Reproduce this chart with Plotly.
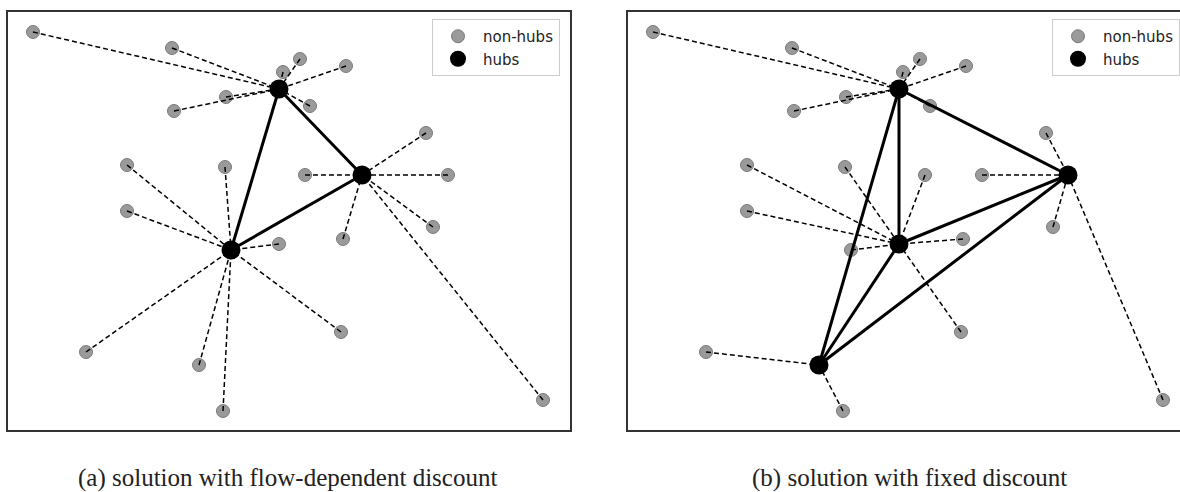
import plotly.graph_objects as go

# node positions (data units, shared by both solutions)
node_x = [25, 164, 275, 292, 338, 302, 218, 166, 271, 119, 217, 119, 297,
          354, 418, 440, 223, 271, 335, 425, 333, 78, 191, 215, 535]
node_y = [398, 382, 358, 371, 364, 324, 333, 319, 341, 265, 263, 219, 255,
          255, 297, 255, 180, 186, 191, 203, 98, 78, 65, 19, 30]

# (a) flow-dependent discount
hubs_a = [8, 13, 16]
assign_a = [8, 8, 8, 8, 8, 8, 8, 8, 8, 16, 16, 16, 13,
            13, 13, 13, 16, 16, 13, 13, 16, 16, 16, 16, 13]
links_a = [(8, 13), (8, 16), (13, 16)]

# (b) fixed discount
hubs_b = [8, 15, 17, 22]
assign_b = [8, 8, 8, 8, 8, 8, 8, 8, 8, 17, 17, 17, 17,
            15, 15, 15, 17, 17, 17, 15, 17, 22, 22, 22, 15]
links_b = [(8, 15), (8, 17), (8, 22), (15, 17), (17, 22), (15, 22)]

captions = ["(a) solution with flow-dependent discount",
            "(b) solution with fixed discount"]

W, H = 1180, 492
fig = go.Figure()

panels = [
    dict(hubs=hubs_a, assign=assign_a, links=links_a, xa="x", ya="y", leg="legend"),
    dict(hubs=hubs_b, assign=assign_b, links=links_b, xa="x2", ya="y2", leg="legend2"),
]

for p in panels:
    hubs = p["hubs"]
    non = [i for i in range(len(node_x)) if i not in hubs]
    # non-hub nodes
    fig.add_trace(go.Scatter(
        x=[node_x[i] for i in non], y=[node_y[i] for i in non], mode="markers",
        marker=dict(size=13, color="#9a9a9a", line=dict(color="#7a7a7a", width=1)),
        name="non-hubs", xaxis=p["xa"], yaxis=p["ya"], legend=p["leg"]))
    # dashed allocation lines
    lx, ly = [], []
    for i in non:
        h = p["assign"][i]
        lx += [node_x[i], node_x[h], None]
        ly += [node_y[i], node_y[h], None]
    fig.add_trace(go.Scatter(
        x=lx, y=ly, mode="lines", line=dict(color="black", width=1.5, dash="5px,3px"),
        showlegend=False, hoverinfo="skip", xaxis=p["xa"], yaxis=p["ya"]))
    # hub links
    hx, hy = [], []
    for a, b in p["links"]:
        hx += [node_x[a], node_x[b], None]
        hy += [node_y[a], node_y[b], None]
    fig.add_trace(go.Scatter(
        x=hx, y=hy, mode="lines", line=dict(color="black", width=3),
        showlegend=False, hoverinfo="skip", xaxis=p["xa"], yaxis=p["ya"]))
    # hubs
    fig.add_trace(go.Scatter(
        x=[node_x[i] for i in hubs], y=[node_y[i] for i in hubs], mode="markers",
        marker=dict(size=19, color="black"),
        name="hubs", xaxis=p["xa"], yaxis=p["ya"], legend=p["leg"]))

ax_common = dict(showgrid=False, zeroline=False, showticklabels=False, ticks="",
                 showline=True, linecolor="#333333", linewidth=1.5)
y_dom = [(H - 430) / H, (H - 12) / H]

legend_common = dict(bgcolor="white", bordercolor="#cccccc", borderwidth=1,
                     font=dict(family="DejaVu Sans", size=15, color="#222222"),
                     xanchor="left", yanchor="top", y=1 - 19 / H,
                     itemsizing="trace", itemwidth=40, tracegroupgap=0)

fig.update_layout(
    width=W, height=H, plot_bgcolor="white", paper_bgcolor="white",
    margin=dict(l=0, r=0, t=0, b=0, autoexpand=False),
    xaxis=dict(domain=[8 / W, 570 / W], range=[0, 562], mirror=True, **ax_common),
    yaxis=dict(domain=y_dom, range=[0, 418], mirror=True, **ax_common),
    xaxis2=dict(domain=[628 / W, 1.0], range=[0, 552], mirror=True, anchor="y2", **ax_common),
    yaxis2=dict(domain=y_dom, range=[0, 418], mirror=False, anchor="x2", **ax_common),
    legend=dict(x=432 / W, **legend_common),
    legend2=dict(x=1052 / W, **legend_common),
    showlegend=True,
)

for cap, cx in zip(captions, [287, 909]):
    fig.add_annotation(text=cap, x=cx / W, y=(H - 478) / H, xref="paper", yref="paper",
                       xanchor="center", yanchor="middle", showarrow=False,
                       font=dict(family="Liberation Serif", size=25, color="#222222"))

fig.write_html("out.html", config={"displayModeBar": False},
               post_script="document.body.style.margin='0';document.body.style.overflow='hidden';")
